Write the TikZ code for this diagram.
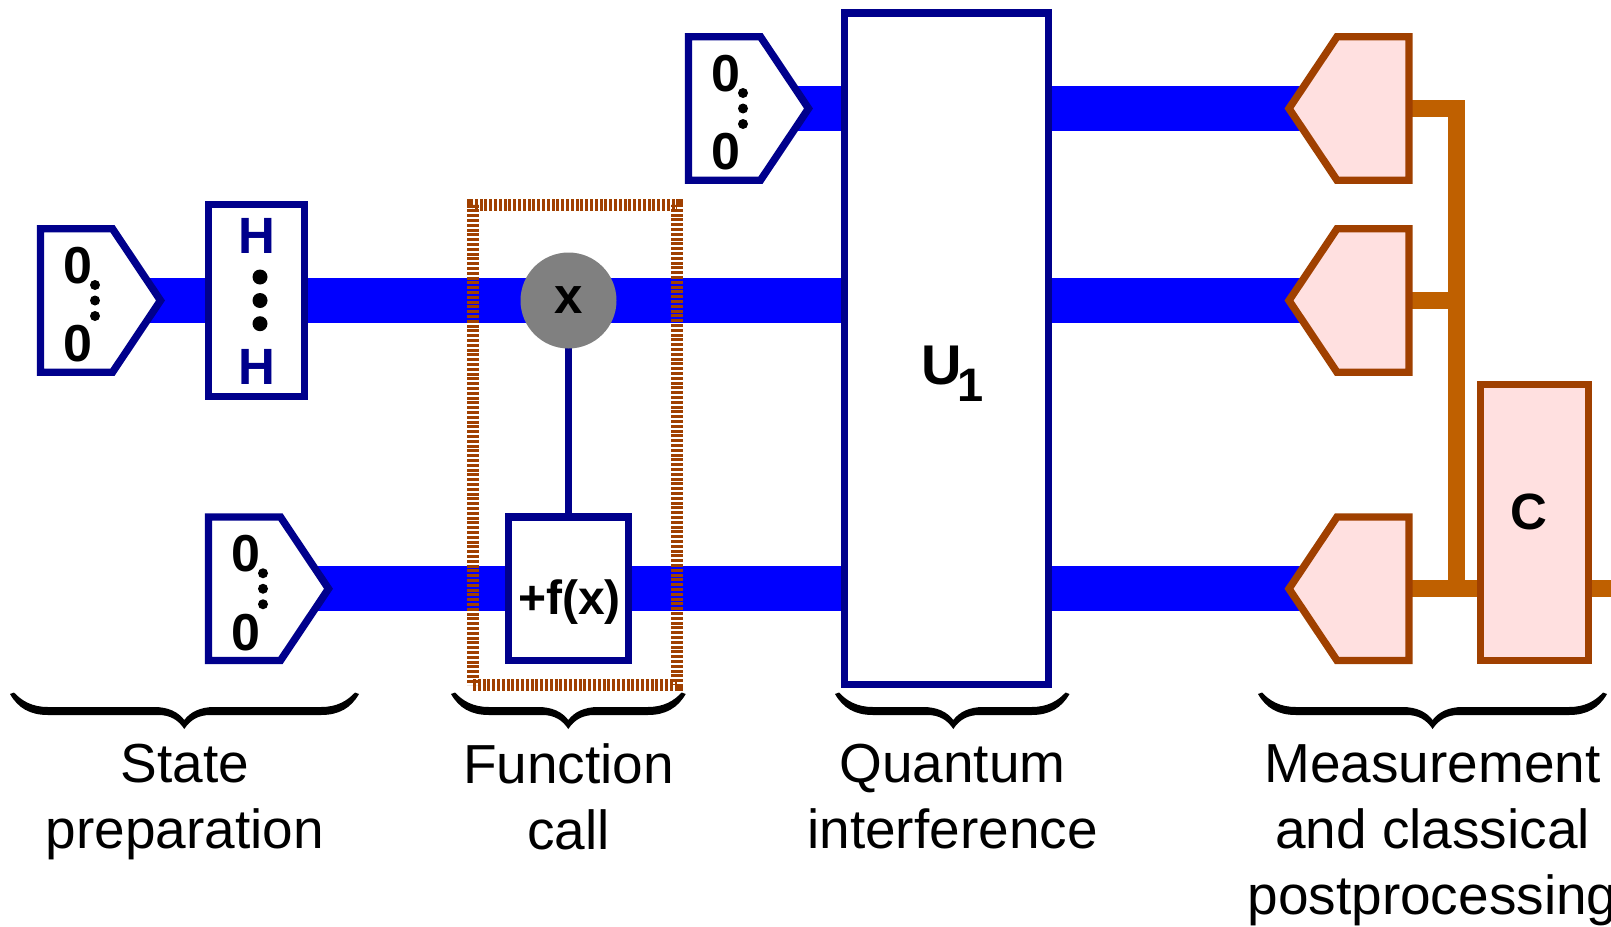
\documentclass[tikz,border=0pt]{standalone}
\usepackage{fontspec}
\setmainfont{Liberation Sans}
\usetikzlibrary{backgrounds,calc}
\definecolor{qnavy}{HTML}{00008C}
\definecolor{qblue}{HTML}{0000FF}
\definecolor{qbrown}{HTML}{A04000}
\definecolor{qwire}{HTML}{BF6000}
\definecolor{qpink}{HTML}{FFE0E0}
\definecolor{qgray}{HTML}{808080}
\tikzset{
  x=0.5pt,y=-0.5pt,
  qbox/.style={draw=qnavy,line width=3.7pt,fill=white,inner sep=0pt},
  cbox/.style={draw=qbrown,line width=3.7pt,fill=qpink,inner sep=0pt},
  pentanchor/.style={inner sep=0pt,outer sep=0pt,minimum width=60pt,minimum height=71.75pt},
  qline/.style={draw=qnavy,line width=3.7pt},
  mline/.style={draw=qbrown,line width=3.7pt,fill=qpink},
  pline/.style={draw=qnavy,line width=3.7pt,fill=white},
  bluewire/.style={draw=qblue,line width=22.5pt},
  classwire/.style={draw=qwire,line width=8.35pt},
  boldtext/.style={font=\bfseries\fontsize{25.5}{30}\selectfont,inner sep=0pt},
  zerotext/.style={font=\bfseries\fontsize{26}{30}\selectfont,inner sep=0pt},
  caption/.style={font=\fontsize{27.5}{33}\selectfont,align=center,inner sep=0pt,anchor=north},
}
% name, centre x, centre y
\newcommand{\prepshape}[3]{
  \node[pentanchor] (#1) at (#2,#3) {};
  \draw[pline] (#1.north west) -- ($(#1.north west)+(72,0)$) -- (#1.east)
     -- ($(#1.south west)+(72,0)$) -- (#1.south west) -- cycle;
  \node[zerotext] (#1za) at ($(#1.center)+(-22.5,-35)$) {0};
  \node[zerotext] (#1zb) at ($(#1.center)+(-22.5,43.5)$) {0};
  \fill ($(#1.center)+(-5.5,-15.5)$) circle (2.5pt);
  \fill ($(#1.center)+(-5.5,0)$) circle (2.5pt);
  \fill ($(#1.center)+(-5.5,15.5)$) circle (2.5pt);
}
\newcommand{\measshape}[3]{
  \node[pentanchor] (#1) at (#2,#3) {};
  \draw[mline] (#1.north east) -- ($(#1.north east)+(-72,0)$) -- (#1.west)
     -- ($(#1.south east)+(-72,0)$) -- (#1.south east) -- cycle;
}
% left end, tip, right end
\newcommand{\curly}[3]{
  \fill (#1,694) .. controls ({#1+8},708) and ({#1+20},715) .. ({#1+38},715)
    -- ({#2-26},715) .. controls ({#2-14},715) and ({#2-6},720) .. (#2,729)
    .. controls ({#2+6},720) and ({#2+14},715) .. ({#2+26},715)
    -- ({#3-38},715) .. controls ({#3-20},715) and ({#3-8},708) .. (#3,694)
    -- ({#3-4},692.5) .. controls ({#3-12},701) and ({#3-22},707) .. ({#3-38},707)
    -- ({#2+30},707) .. controls ({#2+16},707) and ({#2+6},712) .. (#2,720)
    .. controls ({#2-6},712) and ({#2-16},707) .. ({#2-30},707)
    -- ({#1+38},707) .. controls ({#1+22},707) and ({#1+12},701) .. ({#1+4},692.5) -- cycle;
}
\begin{document}
\begin{tikzpicture}
\useasboundingbox (0,0) rectangle (1611,926);
\clip (0,0) rectangle (1611,926);

% state preparation
\prepshape{prepL}{100.5}{300.5}
\prepshape{prepB}{268.5}{588.75}
\prepshape{prepT}{748.5}{108.5}

\node[qbox,minimum width=48pt,minimum height=96pt] (hbox) at (256.5,300.5) {};
\node[boldtext,text=qnavy] (hA) at (257,236) {H};
\node[boldtext,text=qnavy] (hB) at (257,367) {H};
\fill (260,277) circle (3.75pt);
\fill (260,300.5) circle (3.75pt);
\fill (260,323.7) circle (3.75pt);

% function call
\node[qbox,minimum width=60pt,minimum height=71.75pt] (fbox) at (568.5,588.75) {};
\node[inner sep=0pt,anchor=base,font=\bfseries\fontsize{24}{28}\selectfont] (ftext) at (569.5,614) {+f(x)};
\node[draw=qbrown,line width=6pt,dash pattern=on 1.5pt off 0.9pt,inner sep=0pt,
      minimum width=102pt,minimum height=240pt] (frame) at (575,444.5) {};
\node[circle,fill=qgray,inner sep=0pt,minimum size=48pt] (ctrl) at (568.5,300.5) {};
\node[boldtext] (xtext) at (569,300) {x};

% interference
\node[qbox,minimum width=102pt,minimum height=335.75pt] (ubox) at (946.5,348.75) {};
\node[inner sep=0pt,anchor=base west,font=\bfseries\fontsize{28}{34}\selectfont] (ulabel) at (921.5,384)
  {U\kern-2.6pt\raisebox{-8.85pt}{\fontsize{23.5}{28}\selectfont 1}};

% measurement
\measshape{mT}{1349}{108.5}
\measshape{mM}{1349}{300.5}
\measshape{mB}{1349}{588.75}
\node[cbox,minimum width=54pt,minimum height=138pt] (cbox) at (1534.5,522.5) {};
\node[boldtext] (ctext) at (1529,511.7) {C};

% wires behind everything
\coordinate (busT) at (1456.5,108.5);
\coordinate (busM) at (1456.5,300.5);
\coordinate (busB) at (1456.5,588.75);
\coordinate (outR) at (1611,588.75);
\begin{scope}[on background layer]
  \draw[bluewire] (prepT.center) -- (mT.center);
  \draw[bluewire] (prepL.center) -- (hbox.center) -- (ctrl.center) -- (prepL.center -| ubox.center) -- (mM.center);
  \draw[bluewire] (prepB.center) -- (fbox.center) -- (prepB.center -| ubox.center) -- (mB.center);
  \draw[classwire] (mT.center) -- (busT);
  \draw[classwire] (mM.center) -- (busM);
  \draw[classwire] (mB.center) -- (busB) -- (cbox.center |- busB) -- (outR);
  \draw[classwire] ($(busT)+(0,-8.35)$) -- (busB);
  \draw[qline] (ctrl.center) -- (fbox.north);
\end{scope}

% braces
\curly{10}{184.3}{359}
\curly{451}{568.3}{685.7}
\curly{835}{953.3}{1069.5}
\curly{1258}{1432.6}{1607}

% captions
\node[caption] (capA) at (184.8,744) {State\\preparation};
\node[caption] (capB) at (568.5,743) {Function\\call};
\node[caption] (capC) at (952.5,744) {Quantum\\interference};
\node[caption] (capD) at (1432.5,744) {Measurement\\and classical\\postprocessing};
\end{tikzpicture}
\end{document}
